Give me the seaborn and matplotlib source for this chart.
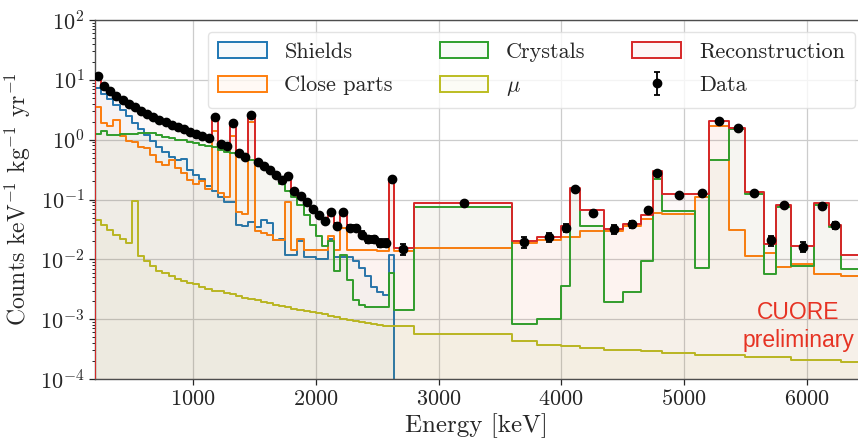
import numpy as np
import pandas as pd
import matplotlib
matplotlib.use("Agg")
import matplotlib.pyplot as plt
import seaborn as sns
from matplotlib.patches import Patch
from matplotlib.colors import to_rgba
from matplotlib.ticker import FixedLocator, LogLocator, NullFormatter

# ---------------- data ----------------
# fine binning below 2640 keV, coarse binning above
edges_low = list(range(200, 2601, 50)) + [2640]
edges_high = [2640, 2800, 3600, 3800, 4000, 4070, 4150, 4350, 4500, 4650, 4750,
              4820, 5090, 5200, 5370, 5500, 5650, 5750, 5870, 6060, 6185, 6280, 6450]
edges_all = edges_low + edges_high[1:]

shields_low = [7.2, 5.8, 4.7, 3.8, 3.1, 2.45, 1.9, 1.5, 1.2, 0.95, 0.74, 0.62, 0.52,
               0.46, 0.48, 0.31, 0.26, 0.22, 0.17, 0.14, 0.11, 0.092, 0.09, 0.038,
               0.036, 0.042, 0.035, 0.045, 0.04, 0.021, 0.022, 0.012, 0.0118, 0.02,
               0.011, 0.011, 0.0103, 0.0103, 0.022, 0.011, 0.011, 0.011, 0.0095,
               0.0072, 0.0052, 0.0035, 0.0028, 0.0025, 0.012]

close_low = [3.5, 1.9, 1.7, 2.1, 1.15, 0.95, 0.9, 0.75, 0.72, 0.55, 0.42, 0.38, 0.45,
             0.33, 0.28, 0.21, 0.185, 0.2, 0.15, 1.4, 0.13, 0.11, 1.15, 0.062, 0.058,
             2.0, 0.03, 0.028, 0.026, 0.021, 0.021, 0.09, 0.0145, 0.022, 0.0145,
             0.0143, 0.0143, 0.0143, 0.025, 0.0143, 0.033, 0.0143, 0.0143, 0.0143,
             0.0143, 0.0143, 0.014, 0.014, 0.19]
close_high = [0.0138, 0.0152, 0.0185, 0.021, 0.024, 0.024, 0.03, 0.03, 0.036, 0.048,
              0.06, 0.058, 0.11, 1.67, 0.031, 0.0114, 0.0127, 0.0074, 0.0083, 0.0057,
              0.0057, 0.0052]

crystals_low = [1.25, 1.4, 1.2, 1.2, 1.22, 1.25, 1.26, 1.28, 1.3, 1.3, 1.2, 1.1, 1.05,
                1.0, 0.97, 0.92, 0.88, 0.83, 0.78, 0.74, 0.68, 0.63, 0.59, 0.55, 0.5,
                0.46, 0.41, 0.35, 0.29, 0.235, 0.18, 0.14, 0.11, 0.08, 0.055, 0.037,
                0.025, 0.017, 0.02, 0.0065, 0.0118, 0.0045, 0.0021, 0.0017, 0.0016,
                0.0016, 0.0016, 0.0016, 0.006]
crystals_high = [0.0014, 0.074, 0.00083, 0.001, 0.0036, 0.143, 0.036, 0.0019, 0.0028,
                 0.0094, 0.224, 0.064, 0.0071, 0.46, 1.5, 0.123, 0.0057, 0.075, 0.0076,
                 0.08, 0.035, 0.0069]

mu_low = [0.045, 0.038, 0.031, 0.026, 0.022, 0.019, 0.095, 0.0112, 0.0095, 0.0078,
          0.0065, 0.0058, 0.0052, 0.0047, 0.0044, 0.0041, 0.0038, 0.0035, 0.0032,
          0.003, 0.0029, 0.0027, 0.0026, 0.0024, 0.0023, 0.0022, 0.0021, 0.00195,
          0.00185, 0.00175, 0.00165, 0.00157, 0.0015, 0.00143, 0.00137, 0.0013,
          0.00125, 0.0012, 0.00113, 0.00108, 0.00102, 0.00098, 0.00093, 0.00089,
          0.00085, 0.00082, 0.00079, 0.00077, 0.00076]
mu_high = [0.00077, 0.00056, 0.00044, 0.00037, 0.00035, 0.00035, 0.00033, 0.000306,
           0.000306, 0.00029, 0.00029, 0.00027, 0.00025, 0.00025, 0.00025, 0.00023,
           0.00023, 0.00023, 0.00021, 0.00021, 0.00021, 0.000193]

data_low = [11.5, 8.0, 6.4, 5.3, 4.6, 4.0, 3.55, 3.07, 2.7, 2.4, 2.15, 1.95, 1.78,
            1.62, 1.48, 1.35, 1.25, 1.16, 1.07, 2.4, 0.85, 0.77, 1.9, 0.6, 0.52, 2.6,
            0.42, 0.36, 0.31, 0.26, 0.21, 0.25, 0.14, 0.115, 0.092, 0.07, 0.055,
            0.044, 0.062, 0.036, 0.061, 0.034, 0.034, 0.026, 0.022, 0.022, 0.019,
            0.019, 0.22]
data_err_low = [0.3, 0.2, 0.15, 0.12, 0.1, 0.09, 0.08, 0.07, 0.06, 0.05, 0.05, 0.045,
                0.04, 0.04, 0.035, 0.035, 0.03, 0.03, 0.03, 0.05, 0.025, 0.025, 0.05,
                0.02, 0.02, 0.06, 0.015, 0.014, 0.012, 0.011, 0.01, 0.012, 0.008,
                0.007, 0.006, 0.005, 0.005, 0.004, 0.005, 0.004, 0.005, 0.004, 0.004,
                0.0035, 0.003, 0.003, 0.003, 0.003, 0.012]
data_x_high = [2710, 3204, 3699, 3902, 4038, 4114, 4255, 4426, 4578, 4703, 4784, 4963,
               5150, 5286, 5444, 5574, 5707, 5816, 5968, 6122, 6231]
data_high = [0.0148, 0.088, 0.0193, 0.0233, 0.034, 0.152, 0.059, 0.032, 0.039, 0.066,
             0.28, 0.121, 0.126, 2.09, 1.58, 0.129, 0.021, 0.082, 0.0163, 0.077, 0.037]
data_err_high = [0.003, 0.004, 0.004, 0.004, 0.005, 0.01, 0.006, 0.005, 0.005, 0.006,
                 0.015, 0.006, 0.008, 0.05, 0.05, 0.008, 0.004, 0.006, 0.003, 0.006,
                 0.005]

# reconstruction: below 2640 keV it lies under the data points
recon_low = list(data_low)
recon_high = [0.0155, 0.089, 0.0202, 0.0233, 0.036, 0.158, 0.066, 0.0316, 0.0388,
              0.056, 0.297, 0.123, 0.123, 2.09, 1.58, 0.134, 0.0177, 0.080, 0.0169,
              0.088, 0.0374, 0.0118]

x_ticks = [1000, 2000, 3000, 4000, 5000, 6000]
y_ticks = [1e-4, 1e-3, 1e-2, 1e-1, 1e0, 1e1, 1e2]
labels = ["Shields", "Close parts", "Crystals", r"$\mu$", "Reconstruction", "Data"]
colors = ["#1f77b4", "#ff7f0e", "#2ca02c", "#bcbd22", "#d62728"]

# ---------------- style ----------------
sns.set_theme(style="whitegrid")
plt.rcParams.update({
    "font.family": "serif",
    "font.serif": ["cmr10"],
    "mathtext.fontset": "cm",
    "axes.formatter.use_mathtext": True,
    "grid.color": "#cccccc",
    "grid.linewidth": 0.9,
})

fig = plt.figure(figsize=(8.58, 4.38), dpi=100)
ax = fig.add_axes([95 / 858, 59 / 438, 763 / 858, 359 / 438])

FILL_ALPHA = 0.03
LW = 1.4


def draw(values, edges, color, z):
    e = [float(v) for v in edges]
    centers = [(a + b) / 2 for a, b in zip(e[:-1], e[1:])]
    df = pd.DataFrame({"energy": centers, "rate": list(values)})
    sns.histplot(data=df, x="energy", weights="rate", bins=e, element="step",
                 fill=True, alpha=FILL_ALPHA, color=color, linewidth=LW, ax=ax,
                 zorder=z)


draw(shields_low, edges_low, colors[0], 2)
draw(close_low + close_high, edges_all, colors[1], 3)
draw(crystals_low + crystals_high, edges_all, colors[2], 4)
draw(mu_low + mu_high, edges_all, colors[3], 2.5)
draw(recon_low + recon_high, edges_all, colors[4], 5)

e_low = np.asarray(edges_low, dtype=float)
data_x = list((e_low[:-1] + e_low[1:]) / 2) + data_x_high
data_y = data_low + data_high
data_e = data_err_low + data_err_high
eb = ax.errorbar(data_x, data_y, yerr=data_e, fmt="o", color="black", ms=6,
                 elinewidth=1.3, capsize=2, capthick=1.3, zorder=10)

ax.set_yscale("log")
ax.set_ylim(1e-4, 1e2)
ax.set_xlim(200, 6418)
ax.xaxis.set_major_locator(FixedLocator(x_ticks))
ax.yaxis.set_major_locator(FixedLocator(y_ticks))
ax.yaxis.set_minor_locator(LogLocator(base=10, subs=np.arange(2, 10), numticks=20))
ax.yaxis.set_minor_formatter(NullFormatter())
ax.grid(True, which="major")
ax.grid(False, which="minor")

ax.tick_params(axis="both", which="both", direction="out", labelsize=16,
               left=True, bottom=True, colors="0.15")
ax.tick_params(which="major", length=4, width=0.9)
ax.tick_params(which="minor", length=2.2, width=0.7)

for s in ["left", "bottom", "top"]:
    ax.spines[s].set_color("0.3")
    ax.spines[s].set_linewidth(1.0)
ax.spines["right"].set_visible(False)

ax.set_xlabel("Energy [keV]", fontsize=18, labelpad=3)
ax.set_ylabel(r"Counts keV$^{-1}$ kg$^{-1}$ yr$^{-1}$", fontsize=17, labelpad=5)

handles = [Patch(facecolor=to_rgba(c, 0.04), edgecolor=c, linewidth=LW)
           for c in colors]
handles.append(eb)
leg = ax.legend(handles, labels, ncol=3, loc="upper right",
                bbox_to_anchor=(0.996, 0.967), borderaxespad=0, fontsize=16,
                handlelength=2.2, handleheight=0.75, columnspacing=2.1,
                labelspacing=0.62, borderpad=0.45, frameon=True, framealpha=0.8)
leg.get_frame().set_edgecolor("#dddddd")

ax.text(0.922, 0.186, "CUORE", transform=ax.transAxes, ha="center", va="center",
        color="#ee3124", fontsize=16.5, family="Liberation Sans")
ax.text(0.922, 0.108, "preliminary", transform=ax.transAxes, ha="center",
        va="center", color="#ee3124", fontsize=16.5, family="Liberation Sans")

fig.savefig("out.png", dpi=100)
